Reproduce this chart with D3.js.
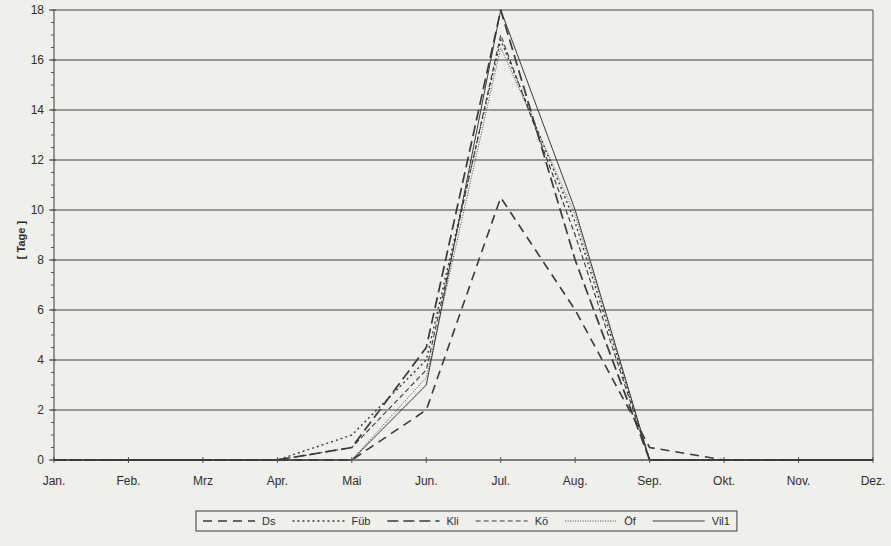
<!DOCTYPE html>
<html>
<head>
<meta charset="utf-8">
<script src="https://cdn.jsdelivr.net/npm/d3@7/dist/d3.min.js"></script>
<style>
  html, body { margin: 0; padding: 0; background: #efefec; }
  svg { display: block; }
  text { font-family: "Liberation Sans", Arial, sans-serif; fill: #2e2e2e; }
</style>
</head>
<body>
<svg id="chart" width="891" height="546"></svg>
<script>
// Months on the x axis
const months = ["Jan.", "Feb.", "Mrz", "Apr.", "Mai", "Jun.", "Jul.", "Aug.", "Sep.", "Okt.", "Nov.", "Dez."];

// Days per month for each station
const ds   = [0, 0, 0, 0, 0,   2.0, 10.5, 6.0,  0.5, 0, 0, 0];
const fub  = [0, 0, 0, 0, 1.0, 4.0, 16.8, 9.5,  0,   0, 0, 0];
const kli  = [0, 0, 0, 0, 0.5, 4.5, 18.0, 8.0,  0,   0, 0, 0];
const ko   = [0, 0, 0, 0, 0.5, 3.6, 17.0, 9.0,  0,   0, 0, 0];
const of   = [0, 0, 0, 0, 0,   3.3, 16.5, 9.8,  0,   0, 0, 0];
const vil1 = [0, 0, 0, 0, 0,   3.0, 18.0, 10.0, 0,   0, 0, 0];

const yTicks = [0, 2, 4, 6, 8, 10, 12, 14, 16, 18];

const series = [
  { name: "Ds",   values: ds,   dash: "9,6",   width: 1.6 },
  { name: "Füb",  values: fub,  dash: "2,3",   width: 1.4 },
  { name: "Kli",  values: kli,  dash: "11,5",  width: 1.7 },
  { name: "Kö",   values: ko,   dash: "5,3",   width: 1.1 },
  { name: "Öf",   values: of,   dash: "1,1.5", width: 0.9 },
  { name: "Vil1", values: vil1, dash: null,    width: 1.0 }
];

const svg = d3.select("#chart");
const plotL = 54, plotR = 873, plotT = 10, plotB = 460;

const x = d3.scalePoint().domain(months).range([plotL, plotR]);
const y = d3.scaleLinear().domain([0, 18]).range([plotB, plotT]);

// Horizontal gridlines
svg.append("g")
  .selectAll("line")
  .data(yTicks.filter(d => d > 0))
  .join("line")
  .attr("x1", plotL).attr("x2", plotR)
  .attr("y1", d => y(d)).attr("y2", d => y(d))
  .attr("stroke", "#7a7a78").attr("stroke-width", 1.4);

// Right border of the plot area
svg.append("line")
  .attr("x1", plotR).attr("x2", plotR).attr("y1", plotT).attr("y2", plotB)
  .attr("stroke", "#7a7a78").attr("stroke-width", 1.4);

// Y axis: major ticks every 2, minor every 0.5
const yAxis = svg.append("g").attr("transform", `translate(${plotL},0)`);
yAxis.append("line")
  .attr("x1", 0).attr("x2", 0).attr("y1", plotT).attr("y2", plotB)
  .attr("stroke", "#555").attr("stroke-width", 1.2);
yAxis.selectAll("line.minor")
  .data(d3.range(0, 18.01, 0.5))
  .join("line").attr("class", "minor")
  .attr("x1", -3).attr("x2", 0)
  .attr("y1", d => y(d)).attr("y2", d => y(d))
  .attr("stroke", "#555").attr("stroke-width", 1);
yAxis.selectAll("line.major")
  .data(yTicks)
  .join("line").attr("class", "major")
  .attr("x1", -5).attr("x2", 2)
  .attr("y1", d => y(d)).attr("y2", d => y(d))
  .attr("stroke", "#555").attr("stroke-width", 1.2);
yAxis.selectAll("text")
  .data(yTicks)
  .join("text")
  .attr("x", -10).attr("y", d => y(d)).attr("dy", "0.35em")
  .attr("text-anchor", "end")
  .attr("font-size", 12)
  .text(d => d);

// X axis
const xAxis = svg.append("g").attr("transform", `translate(0,${plotB})`);
xAxis.append("line")
  .attr("x1", plotL).attr("x2", plotR)
  .attr("stroke", "#555").attr("stroke-width", 1.4);
xAxis.selectAll("line.tick")
  .data(months)
  .join("line").attr("class", "tick")
  .attr("x1", d => x(d)).attr("x2", d => x(d))
  .attr("y1", -3).attr("y2", 3)
  .attr("stroke", "#555").attr("stroke-width", 1);
xAxis.selectAll("text")
  .data(months)
  .join("text")
  .attr("x", d => x(d)).attr("y", 25)
  .attr("text-anchor", "middle")
  .attr("font-size", 12)
  .text(d => d);

// Y axis title
svg.append("text")
  .attr("transform", `translate(25,${(plotT + plotB) / 2 + 5}) rotate(-90)`)
  .attr("text-anchor", "middle")
  .attr("font-size", 11).attr("font-weight", "bold")
  .text("[ Tage ]");

// Lines
const line = d3.line().x((d, i) => x(months[i])).y(d => y(d));
svg.append("g")
  .selectAll("path")
  .data(series)
  .join("path")
  .attr("d", d => line(d.values))
  .attr("fill", "none")
  .attr("stroke", "#3a3a3a")
  .attr("stroke-width", d => d.width)
  .attr("stroke-dasharray", d => d.dash)
  .attr("stroke-linejoin", "round");

// Legend
const lg = svg.append("g");
const box = lg.append("rect")
  .attr("fill", "none").attr("stroke", "#555").attr("stroke-width", 1.2);
let cx = 203;
const ly = 521;
series.forEach(s => {
  lg.append("line")
    .attr("x1", cx).attr("x2", cx + 52).attr("y1", ly).attr("y2", ly)
    .attr("stroke", "#3a3a3a")
    .attr("stroke-width", s.width)
    .attr("stroke-dasharray", s.dash);
  const t = lg.append("text")
    .attr("x", cx + 59).attr("y", ly).attr("dy", "0.35em")
    .attr("font-size", 11)
    .text(s.name);
  cx += 59 + t.node().getComputedTextLength() + 17;
});
box.attr("x", 196).attr("y", 511).attr("width", cx - 17 + 7 - 196).attr("height", 20);
</script>
</body>
</html>
